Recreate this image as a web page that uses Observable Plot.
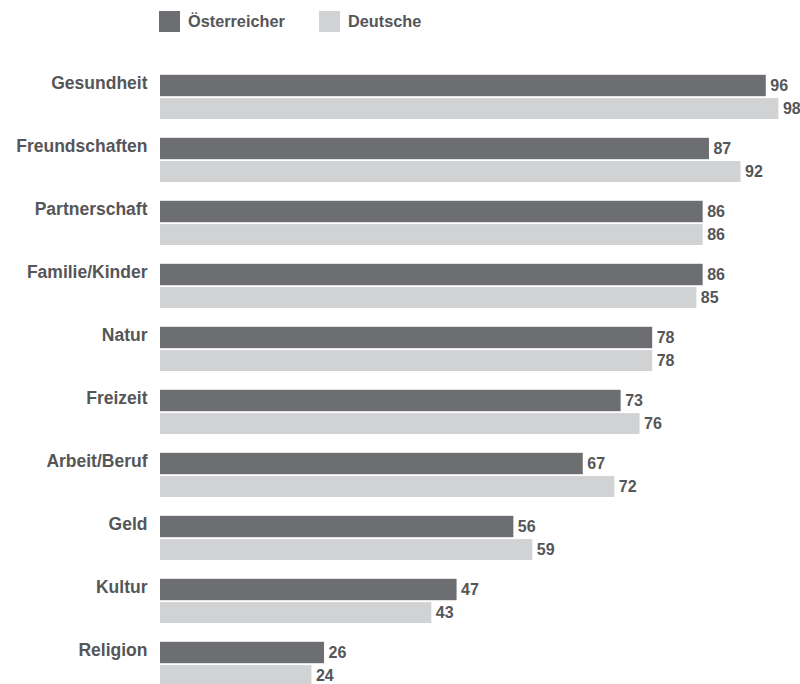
<!DOCTYPE html>
<html>
<head>
<meta charset="utf-8">
<script src="https://cdn.jsdelivr.net/npm/d3@7"></script>
<script src="https://cdn.jsdelivr.net/npm/@observablehq/plot@0.6"></script>
<style>
  html, body { margin: 0; padding: 0; background: #fff; }
  body { width: 800px; height: 684px; overflow: hidden; font-family: "Liberation Sans", Arial, sans-serif; }
  #legend { position: relative; height: 46px; width: 800px; }
  .sw { position: absolute; top: 11px; width: 21px; height: 21px; }
  .lt { position: absolute; top: 11px; height: 21px; line-height: 21px; font-size: 16.3px; font-weight: bold; color: #555658; }
  #chart svg { display: block; }
</style>
</head>
<body>
<div id="legend"></div>
<div id="chart"></div>
<script>
const categories = ["Gesundheit","Freundschaften","Partnerschaft","Familie/Kinder","Natur","Freizeit","Arbeit/Beruf","Geld","Kultur","Religion"];
const oesterreicher = [96, 87, 86, 86, 78, 73, 67, 56, 47, 26];
const deutsche = [98, 92, 86, 85, 78, 76, 72, 59, 43, 24];
const seriesNames = ["Österreicher", "Deutsche"];
const seriesColors = ["#6d6e71", "#d1d2d4"];
const textColor = "#555658";

const rows = categories.map((c, i) => ({category: c, oe: oesterreicher[i], de: deutsche[i]}));

// Legend
const legend = document.getElementById("legend");
const legendX = [159, 319];
seriesNames.forEach((name, i) => {
  const sw = document.createElement("div");
  sw.className = "sw";
  sw.style.left = legendX[i] + "px";
  sw.style.background = seriesColors[i];
  legend.appendChild(sw);
  const t = document.createElement("div");
  t.className = "lt";
  t.style.left = (legendX[i] + 29) + "px";
  t.textContent = name;
  legend.appendChild(t);
});

const font = "'Liberation Sans', Arial, sans-serif";
const chart = Plot.plot({
  width: 800,
  height: 640,
  marginTop: 9,
  marginBottom: 0,
  marginLeft: 160,
  marginRight: 9,
  style: {fontFamily: font, background: "#fff"},
  x: {domain: [0, 100], axis: null},
  y: {domain: categories, padding: 0, axis: null},
  marks: [
    Plot.barX(rows, {y: "category", x: "oe", fill: seriesColors[0], insetTop: 18.8, insetBottom: 22.8}),
    Plot.barX(rows, {y: "category", x: "de", fill: seriesColors[1], insetTop: 42.1, insetBottom: 0}),
    Plot.text(rows, {y: "category", x: "oe", text: d => String(d.oe), dx: 4, dy: -2, textAnchor: "start",
      fontSize: 16, fontWeight: "bold", fill: textColor}),
    Plot.text(rows, {y: "category", x: "de", text: d => String(d.de), dx: 4, dy: 21, textAnchor: "start",
      fontSize: 16, fontWeight: "bold", fill: textColor}),
    Plot.text(rows, {y: "category", x: 0, text: "category", dx: -13, dy: -5, textAnchor: "end",
      fontSize: 17.5, fontWeight: "bold", fill: textColor})
  ]
});
document.getElementById("chart").appendChild(chart);
</script>
</body>
</html>
